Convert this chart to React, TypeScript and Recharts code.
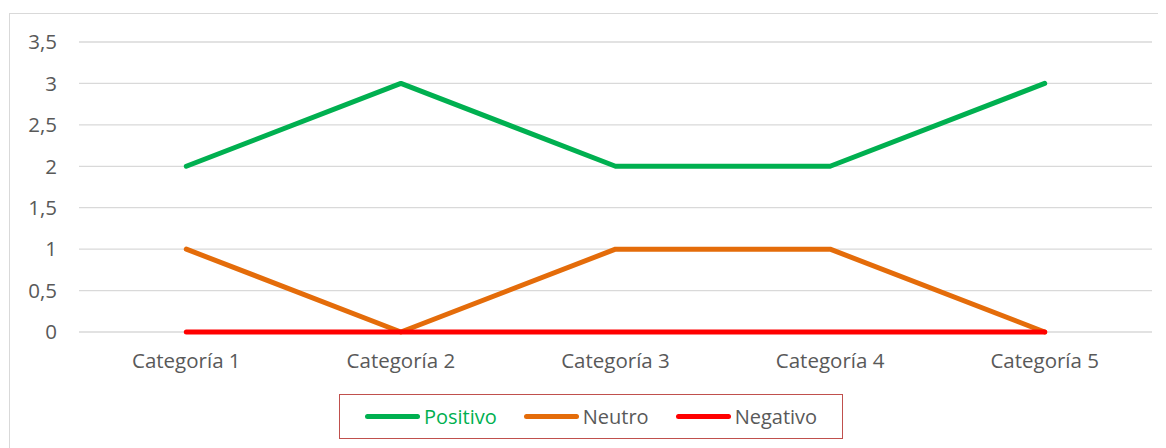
import React from 'react';
import { LineChart, Line, XAxis, YAxis, CartesianGrid, Legend } from 'recharts';

const categories = ['Categoría 1', 'Categoría 2', 'Categoría 3', 'Categoría 4', 'Categoría 5'];
const positivo = [2, 3, 2, 2, 3];
const neutro = [1, 0, 1, 1, 0];
const negativo = [0, 0, 0, 0, 0];
const yTicks = [0, 0.5, 1, 1.5, 2, 2.5, 3, 3.5];

const seriesNames = ['Positivo', 'Neutro', 'Negativo'];
const seriesKeys = ['positivo', 'neutro', 'negativo'];
const seriesColors = ['#00B050', '#E46C0A', '#FF0000'];
const legendTextColors = ['#00B050', '#595959', '#595959'];

const data = categories.map((c, i) => ({
  name: c,
  positivo: positivo[i],
  neutro: neutro[i],
  negativo: negativo[i],
}));

const FONT = '"Open Sans", sans-serif';

const LegendBox = () => (
  <div
    style={{
      boxSizing: 'border-box',
      width: 504,
      height: 45,
      border: '1.5px solid #C0504D',
      display: 'flex',
      alignItems: 'center',
      justifyContent: 'center',
      gap: 27,
      fontFamily: FONT,
      fontSize: 20,
    }}
  >
    {seriesNames.map((n, i) => (
      <div key={n} style={{ display: 'flex', alignItems: 'center', gap: 4 }}>
        <div style={{ width: 55, height: 5, borderRadius: 3, background: seriesColors[i] }} />
        <span style={{ color: legendTextColors[i], lineHeight: '22px' }}>{n}</span>
      </div>
    ))}
  </div>
);

export default function App() {
  return (
    <div
      style={{
        marginLeft: 1,
        marginTop: 5,
        width: 1157,
        height: 435,
        boxSizing: 'border-box',
        borderLeft: '1.5px solid #d9d9d9',
        borderTop: '1.5px solid #d9d9d9',
        position: 'relative',
        background: '#fff',
      }}
    >
      <LineChart
        width={1156}
        height={434}
        data={data}
        margin={{ top: 28, right: 14, bottom: 9, left: 0 }}
        style={{ fontFamily: FONT }}
      >
        <CartesianGrid vertical={false} stroke="#d9d9d9" strokeWidth={1.3} />
        <XAxis
          dataKey="name"
          scale="band"
          axisLine={false}
          tickLine={false}
          tickSize={0}
          tickMargin={21}
          height={62}
          interval={0}
          tick={{ fill: '#595959', fontSize: 20.5, fontFamily: FONT }}
        />
        <YAxis
          domain={[0, 3.5]}
          ticks={yTicks}
          width={69}
          axisLine={false}
          tickLine={false}
          tickSize={0}
          tickMargin={22}
          interval={0}
          tickFormatter={(v: number) => String(v).replace('.', ',')}
          tick={{ fill: '#595959', fontSize: 20.5, fontFamily: FONT }}
        />
        <Legend
          verticalAlign="bottom"
          content={<LegendBox />}
          wrapperStyle={{ left: 329, top: 380, bottom: 'auto', width: 504, height: 45 }}
        />
        {seriesKeys.map((k, i) => (
          <Line
            key={k}
            dataKey={k}
            name={seriesNames[i]}
            type="linear"
            stroke={seriesColors[i]}
            strokeWidth={5}
            strokeLinecap="round"
            strokeLinejoin="round"
            dot={false}
            activeDot={false}
            isAnimationActive={false}
          />
        ))}
      </LineChart>
    </div>
  );
}
